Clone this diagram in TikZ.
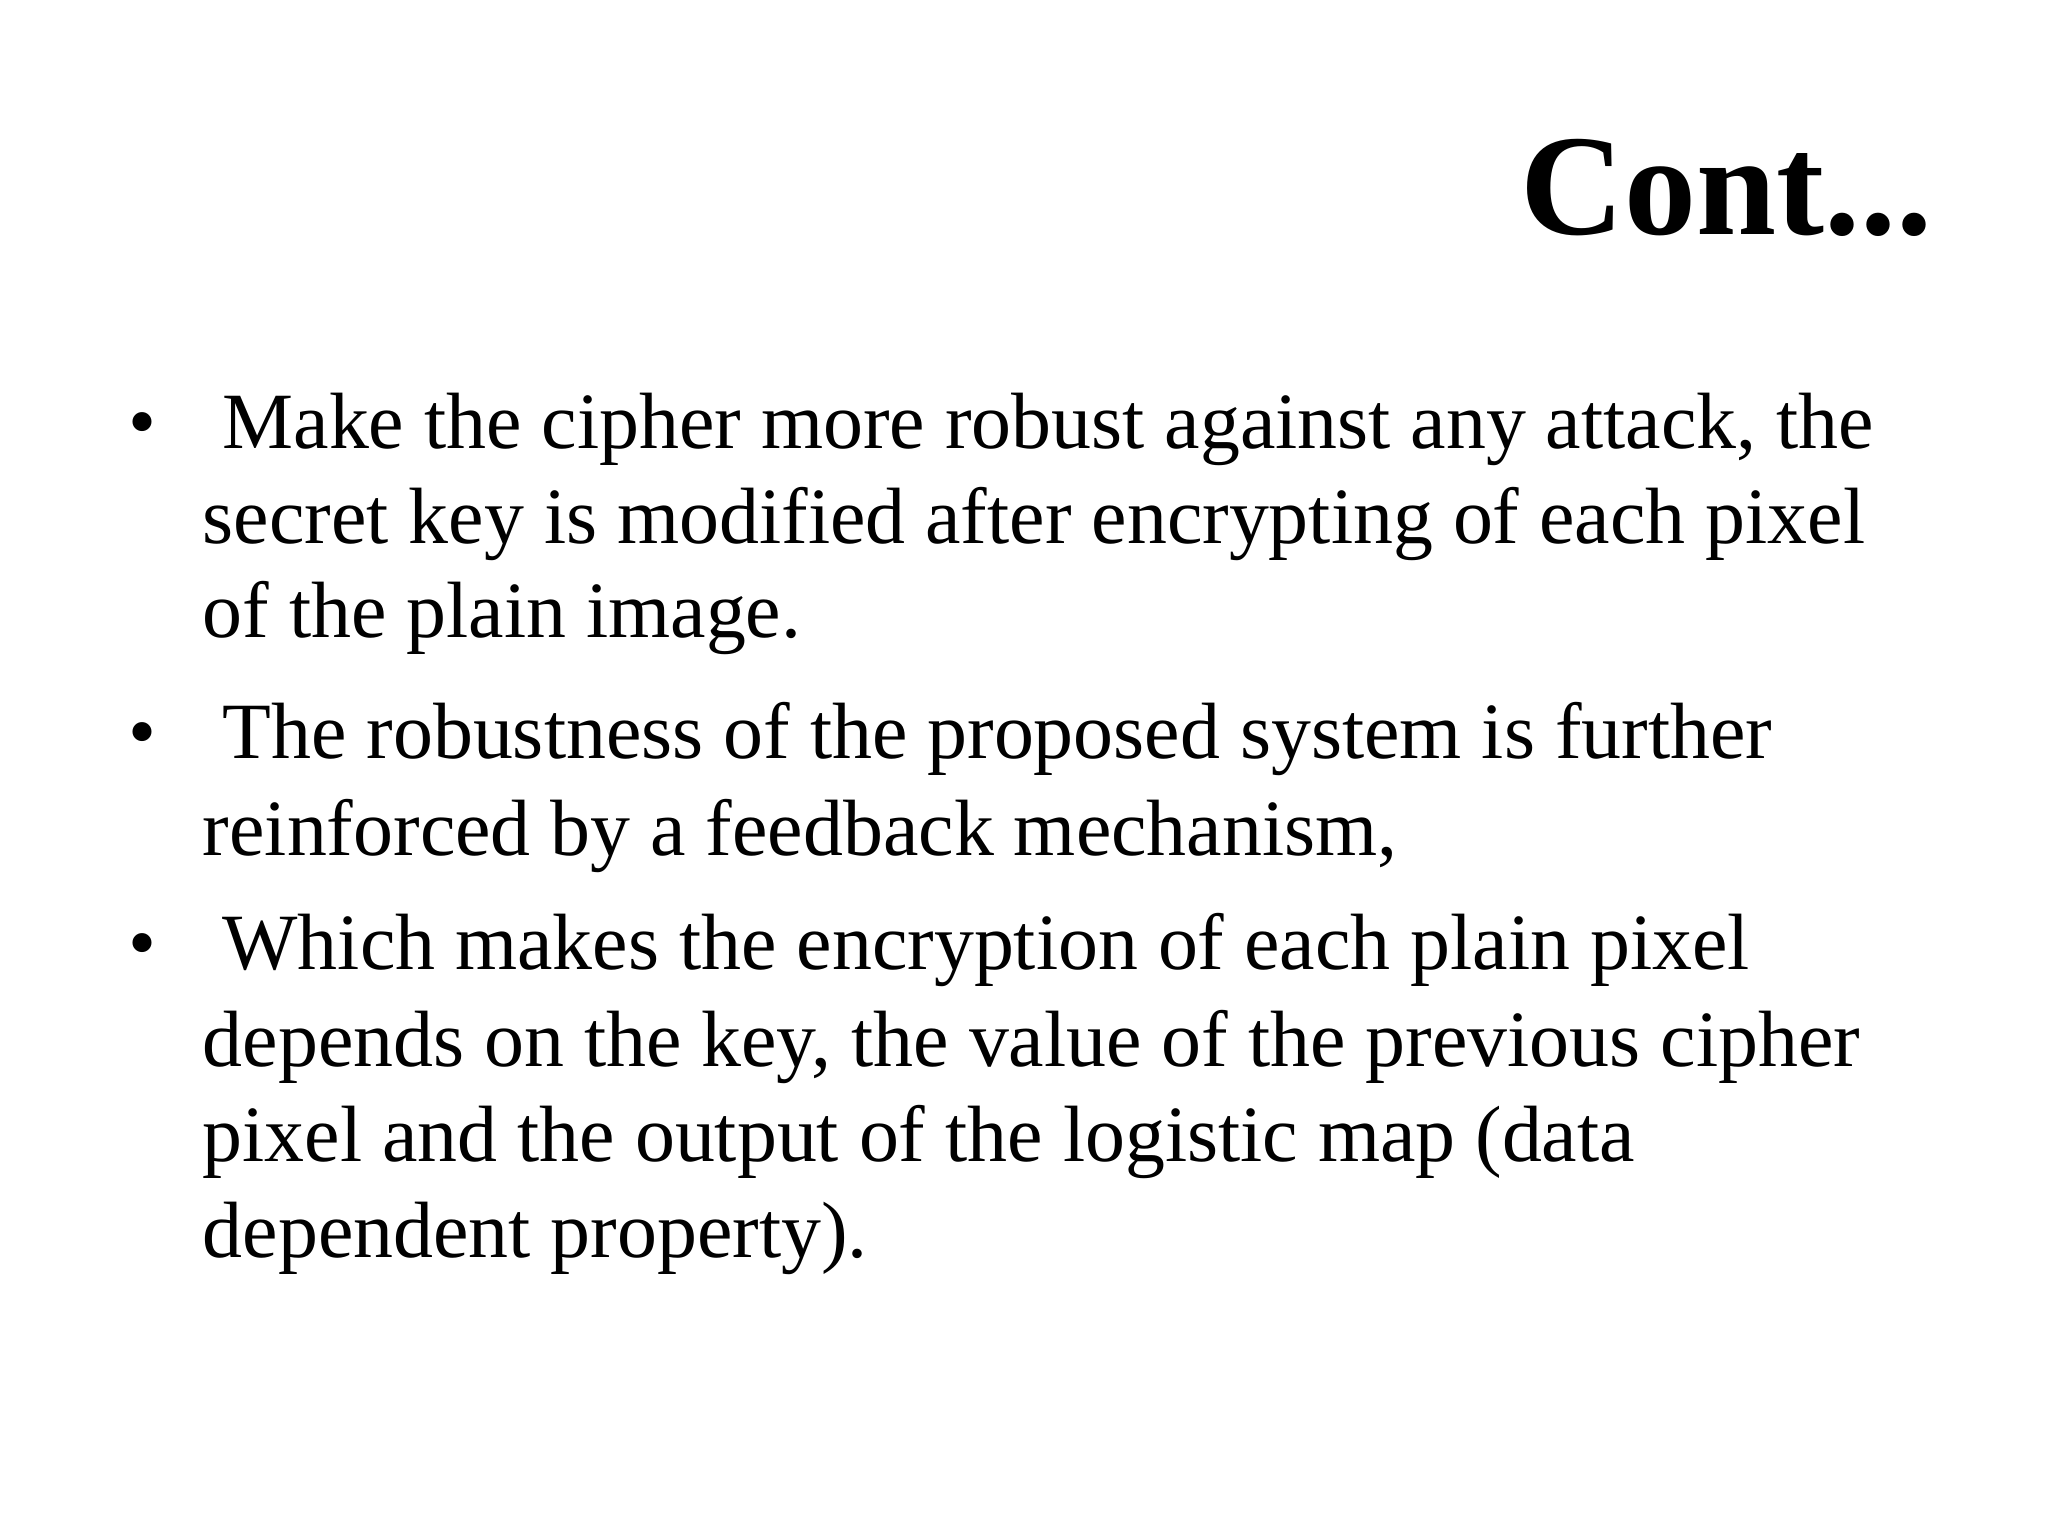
\documentclass[tikz,border=0pt]{standalone}
\usepackage{fontspec}
\setmainfont{Liberation Serif}
\begin{document}
\begin{tikzpicture}[x=0.01cm,y=-0.01cm,
  ln/.style={anchor=base west,inner sep=0pt,font=\fontsize{17.2}{20}\selectfont},
  bul/.style={anchor=base west,inner sep=0pt,font=\fontsize{17.2}{20}\selectfont}]
\useasboundingbox (0,0) rectangle (1552,1164);
\node[anchor=base east,inner sep=0pt,font=\fontsize{31}{36}\selectfont\bfseries] (title) at (1465,178) {Cont...};
\node[bul] (b1) at (97,340) {•};
\node[ln] (l1) at (168,340) {Make the cipher more robust against any attack, the};
\node[ln] (l2) at (153,412) {secret key is modified after encrypting of each pixel};
\node[ln] (l3) at (153,483) {of the plain image.};
\node[bul] (b2) at (97,575) {•};
\node[ln] (l4) at (168,575) {The robustness of the proposed system is further};
\node[ln] (l5) at (153,648) {reinforced by a feedback mechanism,};
\node[bul] (b3) at (97,735) {•};
\node[ln] (l6) at (168,735) {Which makes the encryption of each plain pixel};
\node[ln] (l7) at (153,808) {depends on the key, the value of the previous cipher};
\node[ln] (l8) at (153,880) {pixel and the output of the logistic map (data};
\node[ln] (l9) at (153,953) {dependent property).};
\end{tikzpicture}
\end{document}
